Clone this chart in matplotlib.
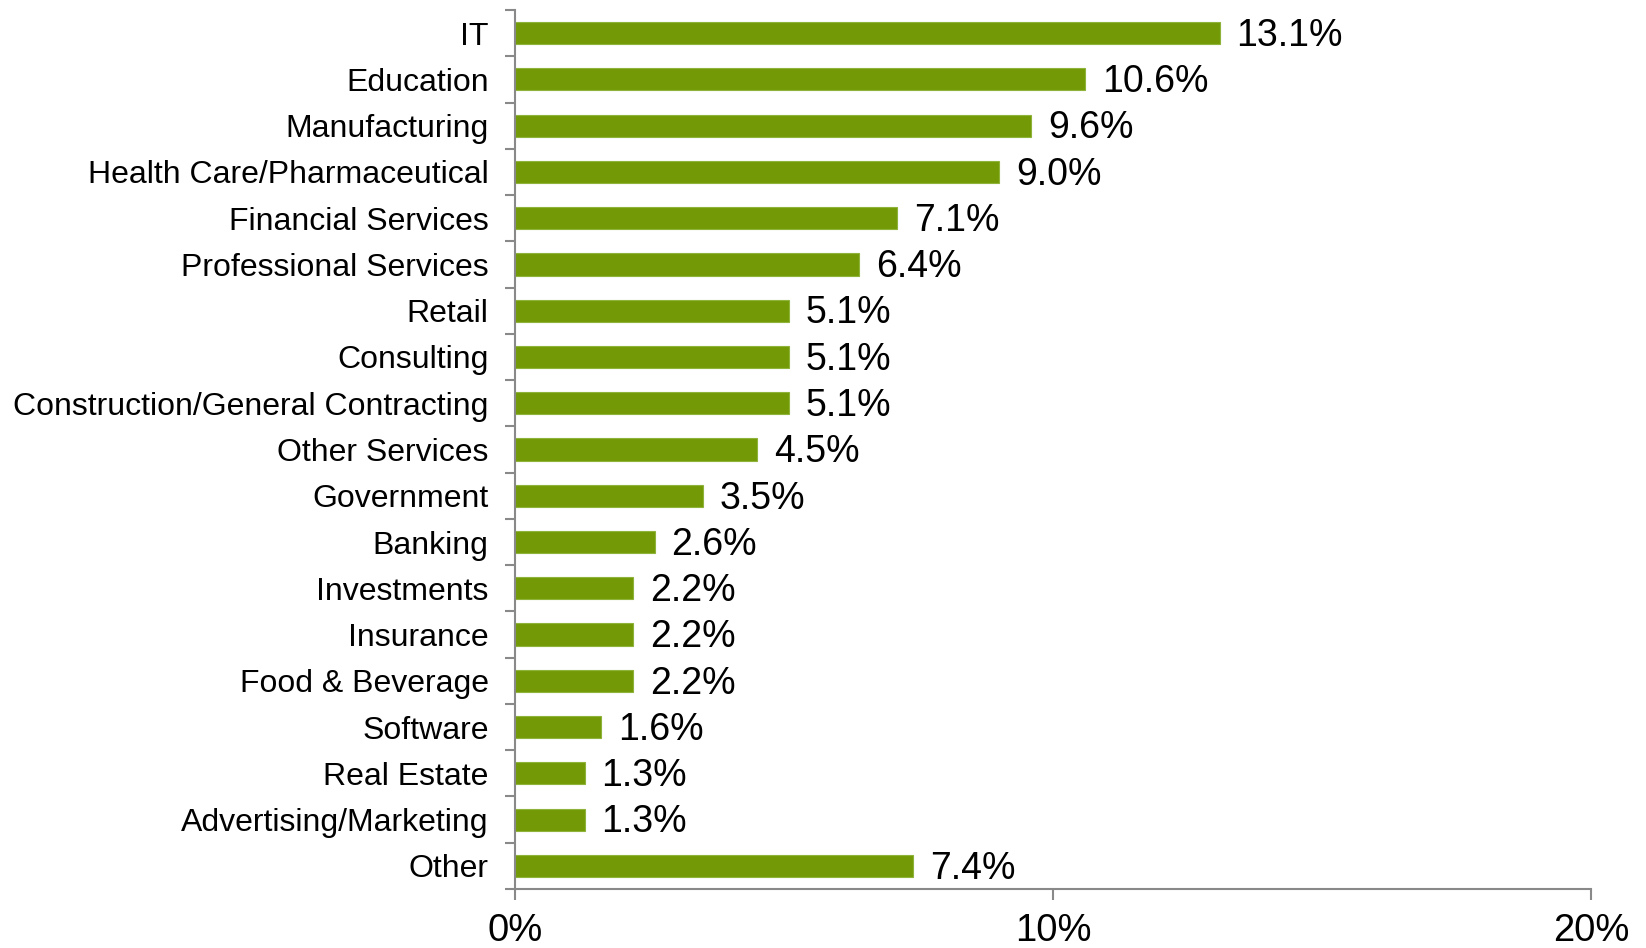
import matplotlib
matplotlib.use("Agg")
import matplotlib.pyplot as plt
from matplotlib.ticker import FixedLocator, FuncFormatter

categories = ["IT", "Education", "Manufacturing", "Health Care/Pharmaceutical",
              "Financial Services", "Professional Services", "Retail", "Consulting",
              "Construction/General Contracting", "Other Services", "Government",
              "Banking", "Investments", "Insurance", "Food & Beverage", "Software",
              "Real Estate", "Advertising/Marketing", "Other"]
values = [13.1, 10.6, 9.6, 9.0, 7.1, 6.4, 5.1, 5.1, 5.1, 4.5, 3.5, 2.6, 2.2, 2.2,
          2.2, 1.6, 1.3, 1.3, 7.4]
x_ticks = [0, 10, 20]

plt.rcParams['font.family'] = ['Liberation Sans', 'DejaVu Sans']

fig = plt.figure(figsize=(16.46, 9.48), dpi=100)
ax = fig.add_axes([515/1646, 1-889/948, (1591-515)/1646, (889-10)/948])

n = len(categories)
ypos = list(range(n))
ax.barh(ypos, values, height=0.48, color="#739a06", edgecolor="#8fb33a", linewidth=0.8)
for y, v in zip(ypos, values):
    ax.annotate(f"{v:.1f}%", (v, y), xytext=(12, -2), textcoords="offset points",
                va="center", ha="left", fontsize=27, color="black")

ax.set_ylim(n - 0.5, -0.5)
ax.set_xlim(0, 20)
ax.set_yticks(ypos)
ax.set_yticklabels(categories, fontsize=23)
ax.yaxis.set_minor_locator(FixedLocator([i - 0.5 for i in range(n + 1)]))
ax.tick_params(axis="y", which="major", length=0, pad=19)
ax.tick_params(axis="y", which="minor", length=7, width=1.5, color="#898989")
ax.set_xticks(x_ticks)
ax.xaxis.set_major_formatter(FuncFormatter(lambda v, p: f"{v:.0f}%"))
ax.tick_params(axis="x", which="major", length=8, width=1.5, color="#898989",
               labelsize=27.5, pad=9)

for s in ["top", "right"]:
    ax.spines[s].set_visible(False)
for s in ["left", "bottom"]:
    ax.spines[s].set_color("#898989")
    ax.spines[s].set_linewidth(1.5)

fig.savefig("out.png", dpi=100)
